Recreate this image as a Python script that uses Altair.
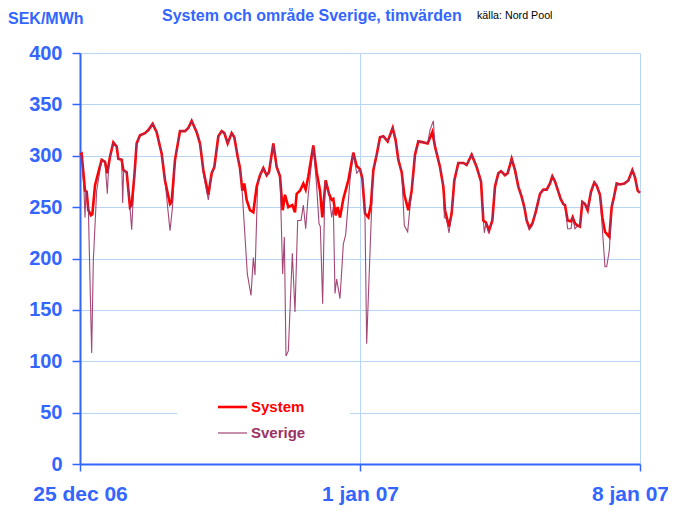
import altair as alt
import pandas as pd

# ---------------- data ----------------
system_hours = [0, 1, 3, 4, 5, 6.6, 7.4, 9, 11, 13, 15, 16.4, 18, 20, 22, 23, 25, 26, 28, 30, 31, 32.6, 34, 36, 39, 41, 43.6, 46, 49, 51, 54, 55, 57, 60, 63, 65, 67, 70, 72, 74, 77, 79, 80.6, 83, 85, 86.6, 88.6, 91, 92.6, 94.6, 96, 97.4, 98.6, 100, 102, 104, 106, 108, 110, 112, 113.4, 116, 118, 120, 121.6, 123, 125, 127.4, 129, 130, 132, 134, 135.4, 137, 140, 142, 144, 145.4, 147.4, 149.4, 151, 152, 153.4, 154.6, 156, 158, 161, 164, 166, 168, 169.4, 171, 173, 174.6, 176, 178, 180, 182, 184.6, 187.6, 189.4, 191, 193, 194.6, 197, 199, 201, 203, 206, 208.6, 211.4, 213, 216, 218, 219, 221.4, 223, 224.6, 227, 230, 232, 235, 238, 240.6, 242, 243.6, 245.4, 247.4, 249, 251, 252.6, 255, 256.6, 259, 261, 263, 265, 266.6, 268, 269.6, 271.4, 273.4, 276, 278, 280, 282, 283.4, 285, 286.6, 288.4, 290, 291, 292.6, 294.6, 295.6, 297, 298.6, 300, 301.4, 303, 304.6, 306.6, 308.6, 310, 312, 313.4, 315, 317.6, 319, 320.4, 322, 324, 326.6, 329, 331.4, 333, 334.6, 336]
system_values = [301, 302, 266, 265, 247, 242, 243, 271, 284, 296, 294, 283, 299, 313, 309, 297, 296, 286, 284, 250, 252, 280, 312, 320, 322, 325, 331, 323, 302, 276, 253, 255, 296, 324, 324, 327, 334, 323, 312, 286, 262, 283, 289, 319, 324, 322, 312, 322, 318, 299, 288, 266, 273, 257, 247, 245, 270, 281, 288, 281, 284, 312, 289, 280, 247, 262, 250, 252, 245, 263, 266, 273, 267, 280, 310, 284, 266, 240, 276, 263, 257, 258, 242, 250, 240, 258, 276, 303, 290, 287, 278, 244, 240, 253, 286, 301, 318, 319, 314, 327, 315, 296, 284, 262, 247, 266, 301, 314, 313, 312, 323, 309, 289, 270, 247, 231, 244, 276, 293, 293, 291, 301, 289, 275, 237, 235, 227, 237, 270, 283, 285, 281, 283, 297, 286, 270, 260, 250, 237, 230, 234, 245, 263, 267, 267, 273, 280, 275, 267, 258, 253, 252, 237, 236, 240, 234, 232, 231, 255, 253, 247, 265, 274, 271, 262, 240, 226, 221, 250, 260, 273, 272, 273, 276, 286, 279, 266, 264]

sverige_hours = [0, 1, 2.4, 3, 3.6, 5, 7, 8, 10, 12, 13, 15, 16.4, 17.2, 18, 20, 22, 23, 25, 25.6, 26.2, 28, 30, 31, 32.6, 34, 36, 39, 41, 43.6, 46, 49, 51, 54, 55.5, 57, 60, 63, 65, 67, 70, 72, 74, 77, 79, 80.6, 83, 85, 86.6, 88.6, 91, 92.6, 94.6, 96, 97.4, 100.4, 102.6, 104, 105, 106.6, 108, 110, 112, 113.4, 116, 118, 120, 121.6, 122.6, 123.6, 125, 127.4, 129, 130.6, 132.6, 134, 135.4, 137, 140, 142, 143.4, 144.2, 145.6, 147, 149.4, 151, 152, 153, 154, 156, 158, 159.4, 162, 164, 166, 168, 169.4, 171, 172, 173, 175, 176, 178, 180, 182, 184.6, 187.6, 189.4, 191, 193, 194.6, 196.6, 198, 199, 201, 203, 206, 208.6, 210, 212, 213, 216, 218, 218.6, 220, 221.4, 223, 224.6, 227, 230, 232, 235, 238, 240.6, 242, 242.6, 243.6, 245, 247.4, 249, 251, 252.6, 255, 256.6, 259, 261, 263, 265, 266.6, 268, 269.6, 271.4, 273.4, 276, 278, 280, 282, 283.4, 285, 286.6, 288.4, 290, 291, 292.6, 294.6, 295.6, 297, 298.6, 300, 301.4, 303, 304.6, 306.6, 308.6, 310, 312, 313.4, 315, 316, 317.6, 319, 320.4, 322, 324, 326.6, 329, 331.4, 333, 334.6, 336]
sverige_values = [301, 302, 266, 240, 266, 250, 108, 198, 266, 286, 296, 294, 263, 290, 299, 313, 309, 297, 296, 254, 286, 284, 250, 228, 280, 312, 320, 322, 325, 331, 323, 302, 276, 227, 250, 296, 324, 324, 327, 334, 323, 312, 283, 257, 283, 289, 319, 324, 322, 312, 322, 318, 299, 288, 263, 185, 164, 201, 184, 273, 281, 288, 281, 284, 312, 289, 280, 185, 221, 105, 110, 205, 148, 237, 237, 252, 229, 263, 310, 270, 234, 231, 156, 276, 263, 240, 250, 166, 180, 161, 214, 223, 276, 303, 283, 287, 278, 240, 117, 162, 250, 286, 301, 318, 319, 314, 327, 315, 296, 284, 232, 226, 250, 266, 301, 314, 313, 312, 325, 334, 309, 289, 270, 240, 238, 225, 244, 276, 293, 293, 291, 301, 289, 275, 237, 225, 235, 226, 237, 270, 283, 285, 281, 283, 297, 286, 270, 260, 250, 237, 228, 232, 247, 263, 267, 267, 273, 280, 275, 267, 258, 253, 252, 229, 229, 240, 229, 232, 231, 255, 253, 247, 265, 274, 271, 262, 229, 192, 192, 208, 250, 260, 273, 272, 273, 276, 286, 279, 266, 264]

y_ticks = [0, 50, 100, 150, 200, 250, 300, 350, 400]
x_tick_hours = [0, 168, 336]
x_tick_labels = ["25 dec 06", "1 jan 07", "8 jan 07"]
series_names = ["System", "Sverige"]
chart_title = "System och område Sverige, timvärden"
source_note = "källa: Nord Pool"
y_unit = "SEK/MWh"

# ---------------- style ----------------
BLUE = "#3366FF"
GRID = "#B9D5F5"
RED = "#FF0000"
PURPLE = "#993366"
FONT = "Liberation Sans"

sys_df = pd.DataFrame({"hour": system_hours, "value": system_values})
sve_df = pd.DataFrame({"hour": sverige_hours, "value": sverige_values})
one = pd.DataFrame({"d": [0]})

label_expr = " : ".join(
    f"datum.value == {h} ? '{t}'" for h, t in zip(x_tick_hours[:-1], x_tick_labels[:-1])
) + f" : '{x_tick_labels[-1]}'"

x_enc = alt.X(
    "hour:Q",
    scale=alt.Scale(domain=[0, 336], nice=False, zero=False),
    axis=alt.Axis(values=x_tick_hours, labelExpr=label_expr, title=None, grid=True,
                  gridColor=GRID, gridWidth=1, domainColor=BLUE, domainWidth=2.2,
                  tickColor=BLUE, tickSize=7, tickWidth=1.5, labelColor=BLUE,
                  labelFont=FONT, labelFontSize=21, labelFontWeight="bold",
                  labelPadding=12, labelAlign="center", labelFlush=False,
                  labelOffset={"condition": {"test": f"datum.value == {x_tick_hours[-1]}", "value": -10},
                               "value": 0}),
)
y_enc = alt.Y(
    "value:Q",
    scale=alt.Scale(domain=[0, 400], nice=False),
    axis=alt.Axis(values=y_ticks, title=None, grid=True, gridColor=GRID, gridWidth=1,
                  domainColor=BLUE, domainWidth=2, tickColor=BLUE, tickSize=8,
                  tickWidth=1.5, labelColor=BLUE, labelFont=FONT, labelFontSize=20,
                  labelFontWeight="bold", labelPadding=10),
)

legend_box = alt.Chart(one).mark_rect(color="white").encode(
    x=alt.value(97), x2=alt.value(270), y=alt.value(337), y2=alt.value(397))

system_line = alt.Chart(sys_df).mark_line(color=RED, strokeWidth=2.6).encode(x=x_enc, y=y_enc)
sverige_line = alt.Chart(sve_df).mark_line(color=PURPLE, strokeWidth=1.1, opacity=0.9).encode(x=x_enc, y=y_enc)

leg_sys_rule = alt.Chart(one).mark_rule(color=RED, strokeWidth=2.6).encode(
    x=alt.value(138), x2=alt.value(167), y=alt.value(354))
leg_sve_rule = alt.Chart(one).mark_rule(color=PURPLE, strokeWidth=1.1).encode(
    x=alt.value(138), x2=alt.value(167), y=alt.value(380))
leg_sys_text = alt.Chart(one).mark_text(align="left", baseline="middle", font=FONT, fontSize=15,
                                        fontWeight="bold", color=RED).encode(
    x=alt.value(171), y=alt.value(354), text=alt.value(series_names[0]))
leg_sve_text = alt.Chart(one).mark_text(align="left", baseline="middle", font=FONT, fontSize=15,
                                        fontWeight="bold", color=PURPLE).encode(
    x=alt.value(171), y=alt.value(380), text=alt.value(series_names[1]))

title_text = alt.Chart(one).mark_text(align="left", baseline="middle", font=FONT, fontSize=16,
                                      fontWeight="bold", color=BLUE).encode(
    x=alt.value(82), y=alt.value(-37), text=alt.value(chart_title))
note_text = alt.Chart(one).mark_text(align="left", baseline="middle", font=FONT, fontSize=10.7,
                                     color="black").encode(
    x=alt.value(397), y=alt.value(-37), text=alt.value(source_note))
unit_text = alt.Chart(one).mark_text(align="left", baseline="middle", font=FONT, fontSize=16,
                                     fontWeight="bold", color=BLUE).encode(
    x=alt.value(-72), y=alt.value(-34), text=alt.value(y_unit))

chart = alt.layer(
    legend_box, system_line, sverige_line, leg_sys_rule, leg_sve_rule,
    leg_sys_text, leg_sve_text, title_text, note_text, unit_text,
).properties(
    width=560, height=411,
    padding={"left": 72, "top": 45, "right": 28, "bottom": 41},
    autosize=alt.AutoSizeParams(type="none"),
).configure_view(strokeWidth=0)

chart.save("out.html", embed_options={"renderer": "svg", "actions": False})
